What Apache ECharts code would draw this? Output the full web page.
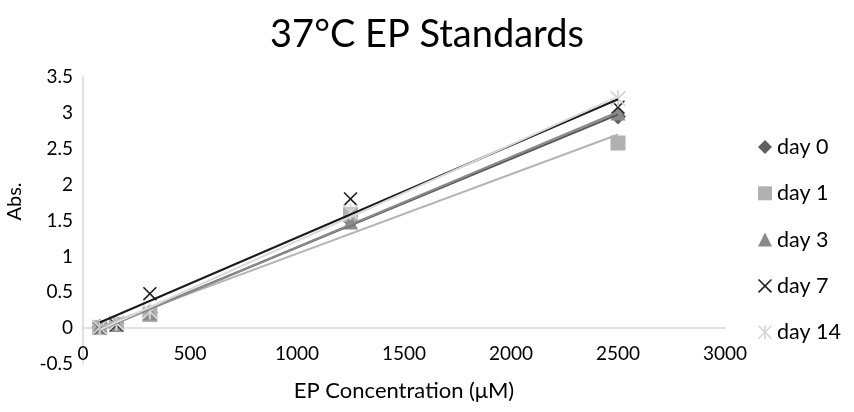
<!DOCTYPE html>
<html>
<head>
<meta charset="utf-8">
<script src="https://cdn.jsdelivr.net/npm/echarts@6/dist/echarts.min.js"></script>
<style>
  html, body { margin: 0; padding: 0; background: #fff; }
  #chart { width: 854px; height: 412px; }
</style>
</head>
<body>
<div id="chart"></div>
<script>
// EP standard concentrations (µM)
const concentrations = [78.125, 156.25, 312.5, 1250, 2500];

// Absorbance readings for each storage day
const day0 = [0.02, 0.06, 0.22, 1.50, 2.95];
const day1 = [0.01, 0.05, 0.19, 1.58, 2.58];
const day3 = [0.02, 0.05, 0.21, 1.48, 3.00];
const day7 = [0.00, 0.05, 0.48, 1.80, 3.08];
const day14 = [0.01, 0.07, 0.23, 1.62, 3.20];

const seriesNames = ['day 0', 'day 1', 'day 3', 'day 7', 'day 14'];
const xTicks = [0, 500, 1000, 1500, 2000, 2500, 3000];
const yTicks = [-0.5, 0, 0.5, 1, 1.5, 2, 2.5, 3, 3.5];

const FONT = 'Lato';

// Marker shapes
const crossPath = 'path://M0,0.8 L0.8,0 L10,9.2 L9.2,10 Z M0.8,10 L0,9.2 L9.2,0 L10,0.8 Z';
const starPath = 'path://M0,0.8 L0.8,0 L10,9.2 L9.2,10 Z M0.8,10 L0,9.2 L9.2,0 L10,0.8 Z M4.4,0 L5.6,0 L5.6,10 L4.4,10 Z';

const styles = [
  { values: day0, symbol: 'diamond', size: 16, marker: '#5f5f5f', line: '#5a5a5a' },
  { values: day1, symbol: 'rect', size: 15, marker: '#b0b0b0', line: '#b4b4b4' },
  { values: day3, symbol: 'triangle', size: 15, marker: '#8a8a8a', line: '#8a8a8a' },
  { values: day7, symbol: crossPath, size: 14, marker: '#1e1e1e', line: '#1a1a1a' },
  { values: day14, symbol: starPath, size: 16, marker: '#d6d6d6', line: '#dadada' }
];

// Least-squares linear trendline over the measured range
function trend(xs, ys) {
  const n = xs.length;
  const mx = xs.reduce((a, b) => a + b, 0) / n;
  const my = ys.reduce((a, b) => a + b, 0) / n;
  let sxy = 0, sxx = 0;
  for (let i = 0; i < n; i++) {
    sxy += (xs[i] - mx) * (ys[i] - my);
    sxx += (xs[i] - mx) * (xs[i] - mx);
  }
  const slope = sxy / sxx;
  const icpt = my - slope * mx;
  const x0 = Math.min(...xs), x1 = Math.max(...xs);
  return [[x0, icpt + slope * x0], [x1, icpt + slope * x1]];
}

const series = [];
styles.forEach((s, i) => {
  series.push({
    name: seriesNames[i] + ' trend',
    type: 'line',
    data: trend(concentrations, s.values),
    showSymbol: false,
    silent: true,
    z: 4,
    lineStyle: { color: s.line, width: 2 }
  });
});
styles.forEach((s, i) => {
  series.push({
    name: seriesNames[i],
    type: 'scatter',
    data: concentrations.map((c, k) => [c, s.values[k]]),
    symbol: s.symbol,
    symbolSize: s.size,
    z: 3,
    itemStyle: { color: s.marker, opacity: 1 }
  });
});

const chart = echarts.init(document.getElementById('chart'), null, { renderer: 'canvas' });
chart.setOption({
  animation: false,
  backgroundColor: '#ffffff',
  title: {
    text: '37°C EP Standards',
    left: 'center',
    top: 11,
    textStyle: { fontFamily: FONT, fontSize: 38, fontWeight: 'normal', color: '#000' }
  },
  grid: { left: 83, right: 129, top: 77, bottom: 48, outerBoundsMode: 'none', containLabel: false },
  legend: {
    data: seriesNames,
    orient: 'vertical',
    left: 758,
    top: 136,
    padding: 0,
    itemWidth: 14,
    itemHeight: 14,
    itemGap: 24.3,
    textStyle: { fontFamily: FONT, fontSize: 21.5, color: '#000', lineHeight: 20 }
  },
  xAxis: {
    type: 'value',
    min: xTicks[0],
    max: xTicks[xTicks.length - 1],
    interval: xTicks[1] - xTicks[0],
    name: 'EP Concentration (μM)',
    nameLocation: 'middle',
    nameGap: 16,
    nameTextStyle: { fontFamily: FONT, fontSize: 22, color: '#000' },
    axisLine: { onZero: true, lineStyle: { color: '#d9d9d9', width: 1.5 } },
    axisTick: { show: false },
    splitLine: { show: false },
    axisLabel: { margin: -20, fontFamily: FONT, fontSize: 19, color: '#000', formatter: v => String(v) }
  },
  yAxis: {
    type: 'value',
    min: yTicks[0],
    max: yTicks[yTicks.length - 1],
    interval: yTicks[1] - yTicks[0],
    name: 'Abs.',
    nameLocation: 'middle',
    nameGap: 58,
    nameTextStyle: { fontFamily: FONT, fontSize: 20, color: '#000', padding: [0, 0, 0, 38] },
    axisLine: { show: true, lineStyle: { color: '#d9d9d9', width: 1.5 } },
    axisTick: { show: false },
    splitLine: { show: false },
    axisLabel: { margin: 10, fontFamily: FONT, fontSize: 19, color: '#000' }
  },
  series: series
});
</script>
</body>
</html>
